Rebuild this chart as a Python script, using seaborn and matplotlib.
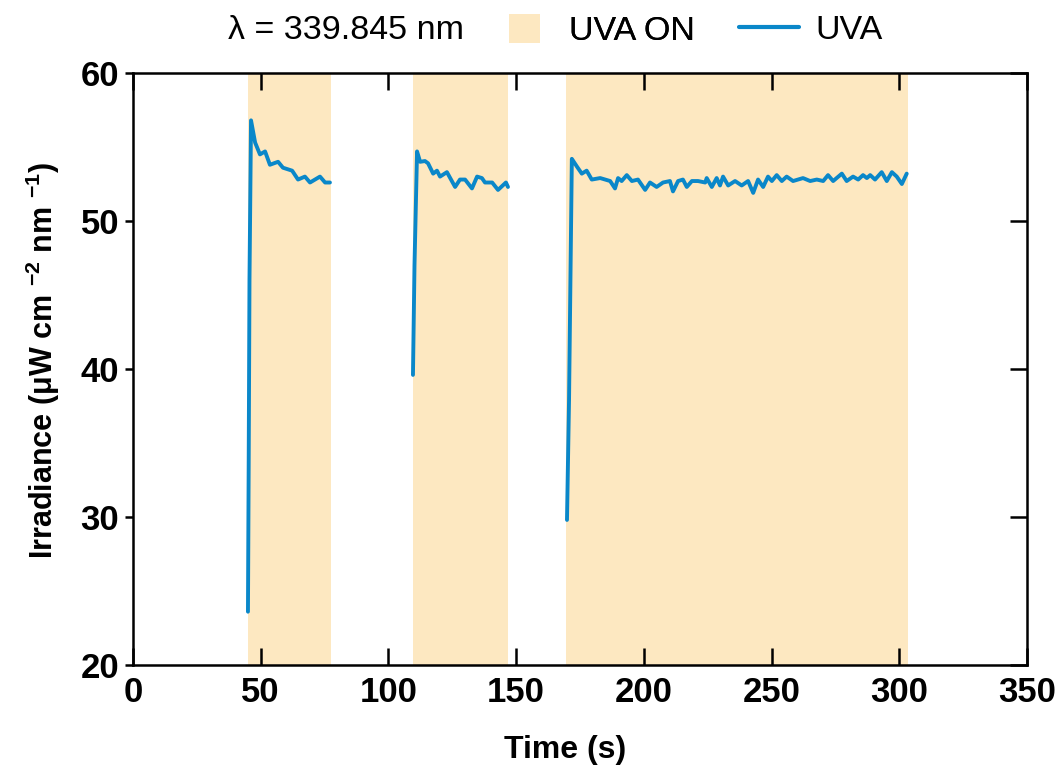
import numpy as np
import pandas as pd
import matplotlib
matplotlib.use("Agg")
import matplotlib.pyplot as plt
import seaborn as sns
from matplotlib.patches import Patch
from matplotlib.lines import Line2D

# --- data -------------------------------------------------------------
uva_on_start = [45.0, 109.5, 169.5]
uva_on_end = [77.5, 147.0, 303.5]

seg1_t = [45.0, 45.3, 45.6, 46.2, 47.8, 49.7, 51.7, 53.6, 56.8, 58.7, 62.3,
          64.6, 67.3, 69.3, 73.2, 75.2, 77.1]
seg1_y = [23.6, 34.0, 46.0, 56.8, 55.3, 54.5, 54.7, 53.8, 54.0, 53.6, 53.4,
          52.8, 53.0, 52.6, 53.0, 52.6, 52.6]

seg2_t = [109.6, 110.2, 111.2, 112.4, 114.3, 115.5, 117.5, 119.0, 120.2,
          122.9, 126.1, 128.0, 130.0, 132.7, 134.7, 136.6, 137.8, 140.6,
          142.9, 146.0, 146.8]
seg2_y = [39.6, 47.0, 54.7, 54.0, 54.05, 53.9, 53.2, 53.4, 53.0, 53.3, 52.3,
          52.8, 52.8, 52.2, 53.0, 52.9, 52.6, 52.6, 52.1, 52.6, 52.3]

seg3_t = [169.9, 170.7, 171.8, 173.7, 175.7, 177.6, 179.6, 182.9, 186.8,
          188.7, 189.9, 191.3, 193.3, 195.3, 197.7, 200.5, 202.4, 205.0,
          207.5, 210.2, 211.4, 213.4, 215.3, 216.8, 218.8, 221.2, 224.0,
          224.6, 226.6, 228.5, 229.8, 231.0, 233.0, 235.7, 238.3, 240.8,
          242.8, 244.7, 246.7, 248.6, 250.1, 252.0, 254.0, 255.9, 258.4,
          262.3, 265.1, 267.7, 270.2, 272.1, 274.1, 277.5, 279.4, 281.9,
          283.9, 285.8, 287.3, 288.6, 290.5, 293.1, 295.1, 297.1, 299.0,
          301.0, 302.9]
seg3_y = [29.8, 37.9, 54.2, 53.7, 53.2, 53.4, 52.8, 52.9, 52.7, 52.2, 52.9,
          52.7, 53.1, 52.7, 52.8, 52.1, 52.6, 52.3, 52.6, 52.7, 52.0, 52.7,
          52.8, 52.3, 52.7, 52.7, 52.6, 52.9, 52.3, 52.9, 52.4, 53.0, 52.4,
          52.7, 52.4, 52.7, 51.9, 52.8, 52.3, 53.0, 52.7, 53.1, 52.7, 53.0,
          52.7, 52.9, 52.7, 52.8, 52.7, 53.1, 52.7, 53.2, 52.7, 53.0, 52.8,
          53.1, 52.9, 53.1, 52.8, 53.3, 52.7, 53.3, 53.0, 52.5, 53.2]

x_ticks = [0, 50, 100, 150, 200, 250, 300, 350]
y_ticks = [20, 30, 40, 50, 60]

line_color = "#0a87c9"
shade_color = "#fde8c1"

# --- build frame -------------------------------------------------------
df = pd.concat([
    pd.DataFrame({"t": seg1_t, "y": seg1_y, "seg": 1}),
    pd.DataFrame({"t": seg2_t, "y": seg2_y, "seg": 2}),
    pd.DataFrame({"t": seg3_t, "y": seg3_y, "seg": 3}),
], ignore_index=True)

sns.set_theme(style="ticks")
plt.rcParams["font.family"] = ["Liberation Sans", "DejaVu Sans"]
plt.rcParams["mathtext.fontset"] = "custom"
plt.rcParams["mathtext.rm"] = "Liberation Sans"
plt.rcParams["mathtext.bf"] = "Liberation Sans:bold"
plt.rcParams["mathtext.it"] = "Liberation Sans:italic"

fig = plt.figure(figsize=(10.59, 7.70), dpi=100)
ax = fig.add_axes([0.1256, 0.1364, 0.8442, 0.7688])

for s, e in zip(uva_on_start, uva_on_end):
    ax.axvspan(s, e, color=shade_color, lw=0, zorder=0)

sns.lineplot(data=df, x="t", y="y", units="seg", estimator=None,
             color=line_color, lw=2.8, ax=ax, legend=False, zorder=3)

ax.set_xlim(0, 350)
ax.set_ylim(20, 60)
ax.set_xticks(x_ticks)
ax.set_yticks(y_ticks)
ax.set_xticklabels([str(v) for v in x_ticks], fontsize=25, fontweight="bold")
ax.set_yticklabels([str(v) for v in y_ticks], fontsize=25, fontweight="bold")

for sp in ax.spines.values():
    sp.set_linewidth(1.8)
    sp.set_color("black")
    sp.set_visible(True)

ax.tick_params(axis="x", which="both", direction="in", length=12, width=1.8,
               top=True, bottom=True, pad=8, colors="black")
ax.tick_params(axis="y", which="both", direction="out", length=6, width=1.8,
               right=True, left=True, pad=4, colors="black")
# right-hand ticks point inward
for t in ax.yaxis.get_major_ticks():
    t.tick2line.set_marker(matplotlib.markers.TICKLEFT)
    t.tick2line.set_markersize(12)

ax.set_xlabel("Time (s)", fontsize=23, fontweight="bold", color="black")
ax.xaxis.set_label_coords(0.483, -0.118)
ax.set_ylabel(r"Irradiance ($\mathbf{\mu}$W cm $^{\mathbf{-2}}$ nm $^{\mathbf{-1}}$)",
              fontsize=22, fontweight="bold", color="black")
ax.yaxis.set_label_coords(-0.079, 0.514)
ax.grid(False)

fig.text(0.215, 0.960, "\u03bb = 339.845 nm", fontsize=24.5, va="center",
         ha="left", color="black")
leg1 = fig.legend(handles=[Patch(facecolor=shade_color, edgecolor="none",
                                 label="UVA ON")],
                  loc="center left", bbox_to_anchor=(0.481, 0.960),
                  frameon=False, fontsize=24.5, handlelength=0.9,
                  handleheight=0.9, handletextpad=0.85,
                  borderaxespad=0, borderpad=0, labelcolor="black")
fig.add_artist(leg1)
fig.legend(handles=[Line2D([], [], color=line_color, lw=3, label="UVA")],
           loc="center left", bbox_to_anchor=(0.698, 0.960),
           frameon=False, fontsize=24.5, handlelength=1.75,
           handletextpad=0.5, borderaxespad=0, borderpad=0,
           labelcolor="black")

fig.savefig("out.png", dpi=100)
